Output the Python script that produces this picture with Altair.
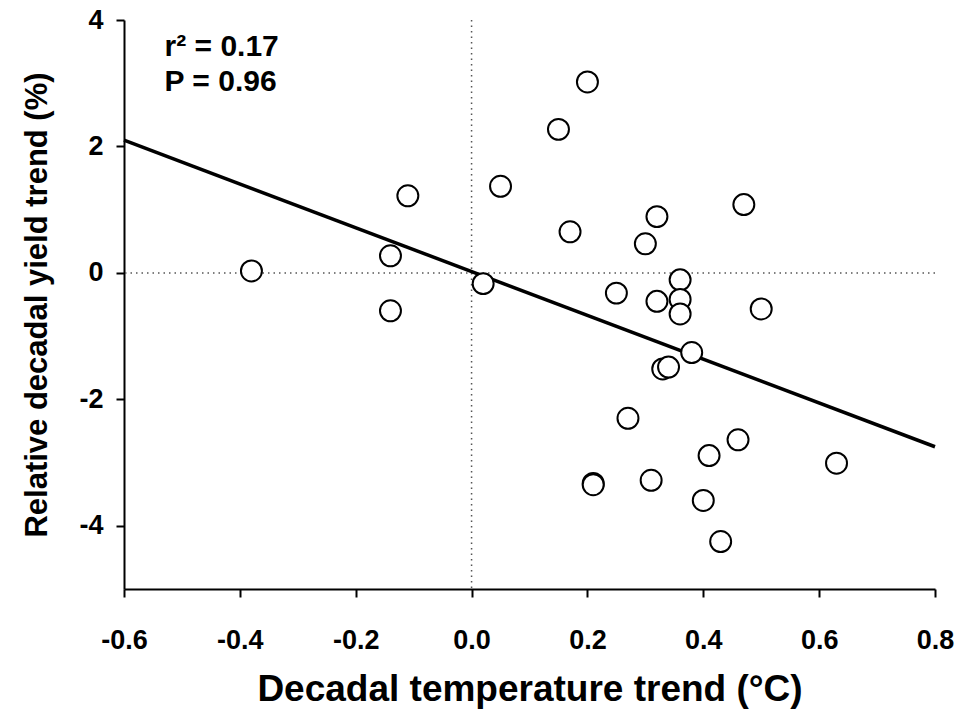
import altair as alt
import pandas as pd

# Data
temp_trend = [-0.38, -0.14, -0.14, -0.11, 0.02, 0.05, 0.15, 0.20, 0.17, 0.30,
              0.32, 0.47, 0.25, 0.32, 0.36, 0.36, 0.36, 0.50, 0.33, 0.34,
              0.38, 0.27, 0.21, 0.21, 0.31, 0.41, 0.46, 0.40, 0.43, 0.63]
yield_trend = [0.03, 0.27, -0.60, 1.22, -0.17, 1.37, 2.27, 3.02, 0.65, 0.46,
               0.89, 1.08, -0.32, -0.45, -0.11, -0.42, -0.65, -0.57, -1.52, -1.49,
               -1.26, -2.30, -3.33, -3.35, -3.28, -2.89, -2.64, -3.60, -4.25, -3.01]
fit_x = [-0.6, 0.8]
fit_y = [2.1, -2.75]
x_ticks = [-0.6, -0.4, -0.2, 0.0, 0.2, 0.4, 0.6, 0.8]
y_ticks = [-4, -2, 0, 2, 4]
ann_text = ["r² = 0.17", "P = 0.96"]
ann_x = [-0.53, -0.53]
ann_y = [3.57, 3.02]

FONT = "Liberation Sans"

pts = pd.DataFrame({"x": temp_trend, "y": yield_trend})
fit = pd.DataFrame({"x": fit_x, "y": fit_y})
ann = pd.DataFrame({"x": ann_x, "y": ann_y, "t": ann_text})

xs = alt.Scale(domain=[-0.6, 0.8], nice=False, zero=False)
ys = alt.Scale(domain=[-5, 4], nice=False, zero=False)

x_axis = alt.Axis(values=x_ticks, format=".1f", grid=False, labelFlush=False,
                  labelExpr="replace(datum.label, '\u2212', '-')",
                  title="Decadal temperature trend (°C)",
                  labelPadding=30, titlePadding=18, titleFontSize=37)
y_axis = alt.Axis(values=y_ticks, format="d", grid=False, labelFlush=False,
                  labelExpr="replace(datum.label, '\u2212', '-')",
                  title="Relative decadal yield trend (%)",
                  labelPadding=13, titlePadding=25, titleFontSize=31)

base_x = alt.X("x:Q", scale=xs, axis=x_axis)
base_y = alt.Y("y:Q", scale=ys, axis=y_axis)

vrule = alt.Chart(pd.DataFrame({"x": [0.0]})).mark_rule(
    color="#555555", strokeWidth=1.5, strokeDash=[1.5, 4]
).encode(x=alt.X("x:Q", scale=xs, axis=x_axis))

hrule = alt.Chart(pd.DataFrame({"y": [0.0]})).mark_rule(
    color="#555555", strokeWidth=1.5, strokeDash=[1.5, 4]
).encode(y=alt.Y("y:Q", scale=ys, axis=y_axis))

line = alt.Chart(fit).mark_line(color="black", strokeWidth=3.5).encode(
    x=base_x, y=base_y)

points = alt.Chart(pts).mark_point(
    shape="circle", filled=False, fill="white", fillOpacity=1,
    stroke="black", strokeWidth=2, size=440, opacity=1
).encode(x=base_x, y=base_y)

text = alt.Chart(ann).mark_text(
    align="left", baseline="middle", font=FONT, fontWeight="bold",
    fontSize=30, color="black"
).encode(x=base_x, y=base_y, text="t:N")

chart = alt.layer(vrule, hrule, line, points, text).properties(
    width=811, height=569,
    autosize=alt.AutoSizeParams(type="none"),
    padding={"left": 124, "top": 20, "right": 26, "bottom": 132},
    background="white",
).configure_view(stroke=None).configure_axis(
    domainColor="black", domainWidth=2, tickColor="black", tickWidth=2,
    tickSize=8, labelFont=FONT, labelFontWeight="bold", labelFontSize=27,
    labelColor="black", titleFont=FONT, titleFontWeight="bold",
    titleColor="black"
)

chart.save("out.html", embed_options={"renderer": "svg", "actions": False})
